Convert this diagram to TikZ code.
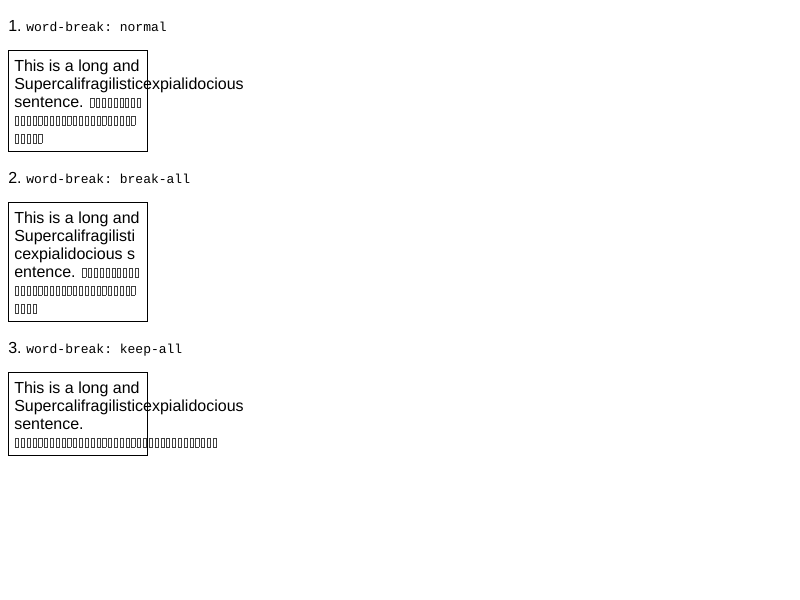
\documentclass[tikz,border=0pt]{standalone}
\usepackage{fontspec}
\setmainfont{Liberation Sans}
\setmonofont{Liberation Mono}
\newcommand\tofu{\kern0.68pt{\setlength\fboxsep{0pt}\setlength\fboxrule{0.65pt}\fbox{\rule{0pt}{6.3pt}\hspace{1.7pt}}}\kern0.68pt}
\newcommand\tofus[1]{{\color{black!75}\foreach\t in {1,...,#1}{\tofu}}}
\tikzset{
  line/.style={anchor=base west, inner sep=0pt, font=\fontsize{12}{14}\selectfont},
  code/.style={anchor=base west, inner sep=0pt, font=\ttfamily\fontsize{9.75}{11}\selectfont},
  wbframe/.style={draw, line width=0.75pt}
}
\begin{document}
\begin{tikzpicture}[x=0.75pt, y=-0.75pt]
  \useasboundingbox (0,0) rectangle (800,600);
  % 1. normal
  \node[line] (n1) at (8,31) {1.};
  \node[code] (c1) at (26,31) {word-break: normal};
  \draw[wbframe] (8.5,50.5) rectangle (147.5,151.5);
  \node[line] (a1) at (14,71) {This is a long and};
  \node[line] (a2) at (14,89) {Supercalifragilisticexpialidocious};
  \node[line] (a3) at (14,107) {sentence. \tofus{9}};
  \node[line] (a4) at (14,125) {\tofus{21}};
  \node[line] (a5) at (14,143) {\tofus{5}};

  % 2. break-all
  \node[line] (n2) at (8,183) {2.};
  \node[code] (c2) at (26,183) {word-break: break-all};
  \draw[wbframe] (8.5,202.5) rectangle (147.5,321.5);
  \node[line] (b1) at (14,223) {This is a long and};
  \node[line] (b2) at (14,241) {Supercalifragilisti};
  \node[line] (b3) at (14,259) {cexpialidocious s};
  \node[line] (b4) at (14,277) {entence. \tofus{10}};
  \node[line] (b5) at (14,295) {\tofus{21}};
  \node[line] (b6) at (14,313) {\tofus{4}};

  % 3. keep-all
  \node[line] (n3) at (8,353) {3.};
  \node[code] (c3) at (26,353) {word-break: keep-all};
  \draw[wbframe] (8.5,372.5) rectangle (147.5,455.5);
  \node[line] (k1) at (14,393) {This is a long and};
  \node[line] (k2) at (14,411) {Supercalifragilisticexpialidocious};
  \node[line] (k3) at (14,429) {sentence.};
  \node[line] (k4) at (14,447) {\tofus{35}};
\end{tikzpicture}
\end{document}
